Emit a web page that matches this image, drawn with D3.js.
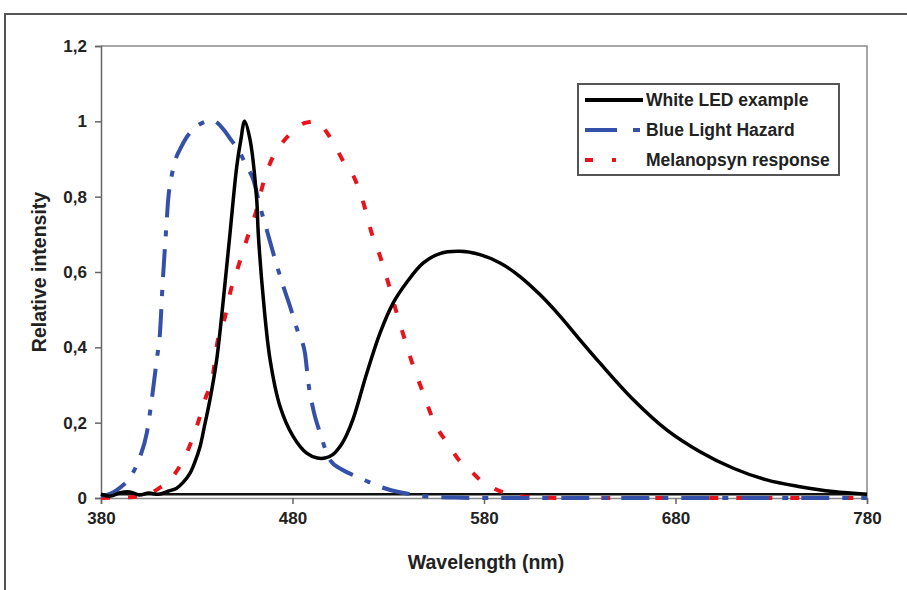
<!DOCTYPE html>
<html>
<head>
<meta charset="utf-8">
<script src="https://cdn.jsdelivr.net/npm/d3@7"></script>
<style>
  html, body { margin: 0; padding: 0; background: #fff; }
  svg { display: block; }
  text { font-family: "Liberation Sans", Arial, sans-serif; font-weight: bold; fill: #222; }
</style>
</head>
<body>
<svg id="chart" width="907" height="590"></svg>
<script>
// ---------- DATA ----------
const xTicks = [380, 480, 580, 680, 780];
const yTicks = [0, 0.2, 0.4, 0.6, 0.8, 1, 1.2];
const yTickLabels = ["0", "0,2", "0,4", "0,6", "0,8", "1", "1,2"];
const seriesNames = ["White LED example", "Blue Light Hazard", "Melanopsyn response"];

const ledWl = [380, 385, 390, 395, 400, 405, 410, 415, 419.5, 423, 426.5, 429, 431.7, 434, 436.9, 440.4, 443.9, 447.4, 450.9, 453, 455, 457.8, 461.3, 462.1, 464.8, 468.3, 473.5, 480.4, 487.4, 493, 497, 501, 505, 508.3, 511.8, 518.7, 525.7, 532.6, 539.6, 548.3, 557, 567.5, 577.9, 588.4, 598.8, 609.2, 619.7, 630.1, 640.6, 658, 675.4, 692.8, 710.2, 727.6, 745, 762.4, 780];
const ledVal = [0.01, 0.005, 0.014, 0.016, 0.008, 0.013, 0.01, 0.018, 0.026, 0.042, 0.066, 0.095, 0.136, 0.19, 0.261, 0.367, 0.527, 0.704, 0.881, 0.95, 1.0, 0.952, 0.793, 0.704, 0.527, 0.367, 0.243, 0.163, 0.119, 0.106, 0.106, 0.115, 0.138, 0.168, 0.212, 0.33, 0.438, 0.518, 0.572, 0.624, 0.649, 0.655, 0.646, 0.624, 0.588, 0.54, 0.483, 0.42, 0.358, 0.261, 0.181, 0.123, 0.079, 0.048, 0.03, 0.017, 0.01];

const blhWl = [380, 385, 388.2, 391, 394.3, 397, 400.4, 403.9, 406.5, 409.1, 410.8, 412.2, 413.9, 415.1, 416.9, 419, 421.3, 425, 430, 435, 438, 441, 443.9, 448, 452.6, 456, 459.5, 463, 466.5, 470.9, 475.2, 478.7, 483, 486.5, 488.3, 490.9, 494.4, 499.6, 506, 513.5, 520, 525.7, 532, 539.6, 547, 555, 565, 580, 780];
const blhVal = [0.005, 0.012, 0.021, 0.032, 0.048, 0.07, 0.11, 0.172, 0.261, 0.367, 0.438, 0.571, 0.704, 0.793, 0.855, 0.9, 0.926, 0.96, 0.987, 1.0, 1.003, 0.995, 0.979, 0.95, 0.917, 0.88, 0.846, 0.775, 0.713, 0.633, 0.562, 0.509, 0.438, 0.385, 0.305, 0.234, 0.172, 0.101, 0.075, 0.057, 0.042, 0.03, 0.02, 0.012, 0.006, 0.003, 0.001, 0, 0];

const melWl = [380, 395, 400, 405.6, 410, 416, 420, 424.7, 430, 434.3, 438.6, 440.4, 444.8, 447.4, 451.7, 456.1, 461.3, 464.8, 470, 475, 480.4, 486, 492.6, 498, 503.1, 507, 511.8, 517, 521.3, 525.7, 530, 534.4, 538.7, 543.1, 548.3, 553.5, 562.2, 567, 572.7, 578, 584.9, 590, 595.3, 605, 620, 780];
const melVal = [0, 0.002, 0.005, 0.012, 0.025, 0.048, 0.075, 0.119, 0.19, 0.261, 0.332, 0.402, 0.482, 0.544, 0.615, 0.686, 0.766, 0.837, 0.908, 0.945, 0.974, 0.995, 1.0, 0.97, 0.926, 0.89, 0.855, 0.784, 0.704, 0.642, 0.571, 0.491, 0.42, 0.349, 0.278, 0.207, 0.136, 0.1, 0.074, 0.048, 0.026, 0.015, 0.008, 0.002, 0, 0];

const baseWl = [380, 448, 780];
const baseVal = [0.01, 0.01, 0.01];

// ---------- LAYOUT ----------
const svg = d3.select("#chart");
const pLeft = 101, pRight = 867, pTop = 46, pBottom = 498;

const x = d3.scaleLinear().domain([380, 780]).range([pLeft, pRight]);
const y = d3.scaleLinear().domain([0, 1.2]).range([pBottom, pTop]);

// outer frame
svg.append("rect").attr("x", 5).attr("y", 14).attr("width", 1000).attr("height", 1000)
  .attr("fill", "none").attr("stroke", "#555").attr("stroke-width", 2);

// plot area border (top/right)
svg.append("path")
  .attr("d", `M${pLeft},${pTop}H${pRight}V${pBottom}`)
  .attr("fill", "none").attr("stroke", "#8a8a8a").attr("stroke-width", 1.5);

// axes
const yAxis = d3.axisLeft(y).tickValues(yTicks).tickSize(6).tickPadding(8)
  .tickFormat((d, i) => yTickLabels[i]);
const gy = svg.append("g").attr("transform", `translate(${pLeft},0)`).call(yAxis);
gy.select(".domain").attr("stroke", "#666").attr("stroke-width", 1.5);
gy.selectAll(".tick line").attr("stroke", "#666").attr("stroke-width", 1.5);
gy.selectAll(".tick text").style("font-size", "17px").attr("fill", "#222");

const xAxis = d3.axisBottom(x).tickValues(xTicks).tickSize(6).tickPadding(8)
  .tickFormat(d3.format("d"));
const gx = svg.append("g").attr("transform", `translate(0,${pBottom})`).call(xAxis);
gx.select(".domain").attr("stroke", "#888").attr("stroke-width", 1.5);
gx.selectAll(".tick line").attr("stroke", "#666").attr("stroke-width", 1.5);
gx.selectAll(".tick text").style("font-size", "17px").attr("fill", "#222");

// axis titles
svg.append("text").attr("x", 486).attr("y", 569)
  .attr("text-anchor", "middle").style("font-size", "19.5px").text("Wavelength (nm)");
svg.append("text").attr("transform", `translate(46,272) rotate(-90)`)
  .attr("text-anchor", "middle").style("font-size", "19.5px").text("Relative intensity");

// lines
const zip = (a, b) => a.map((w, i) => [w, b[i]]);
const line = d3.line().x(d => x(d[0])).y(d => y(d[1])).curve(d3.curveMonotoneX);
const smooth = d3.line().x(d => x(d[0])).y(d => y(d[1])).curve(d3.curveCatmullRom.alpha(0.5));

svg.append("path").datum(zip(baseWl, baseVal)).attr("d", line)
  .attr("fill", "none").attr("stroke", "#111").attr("stroke-width", 2.5);

svg.append("path").datum(zip(melWl, melVal)).attr("d", line)
  .attr("fill", "none").attr("stroke", "#e8141c").attr("stroke-width", 4)
  .attr("stroke-dasharray", "9,18");

svg.append("path").datum(zip(blhWl, blhVal)).attr("d", line)
  .attr("fill", "none").attr("stroke", "#3450a8").attr("stroke-width", 4)
  .attr("stroke-dasharray", "28,13,6,13");

svg.append("path").datum(zip(ledWl, ledVal)).attr("d", smooth)
  .attr("fill", "none").attr("stroke", "#000").attr("stroke-width", 3.5)
  .attr("stroke-linejoin", "round");

// legend
const lg = svg.append("g");
lg.append("rect").attr("x", 578).attr("y", 84).attr("width", 261).attr("height", 91)
  .attr("fill", "#fff").attr("stroke", "#555").attr("stroke-width", 2);
const legendStyles = [
  { color: "#000", dash: null, w: 4 },
  { color: "#3450a8", dash: "32,16,7,16", w: 4 },
  { color: "#e8141c", dash: "8,19,4,30", w: 4 }
];
seriesNames.forEach((name, i) => {
  const yy = 100 + i * 30;
  lg.append("line").attr("x1", 585).attr("x2", 643).attr("y1", yy).attr("y2", yy)
    .attr("stroke", legendStyles[i].color).attr("stroke-width", legendStyles[i].w)
    .attr("stroke-dasharray", legendStyles[i].dash);
  lg.append("text").attr("x", 646).attr("y", yy + 6).style("font-size", "17.5px").text(name);
});
</script>
</body>
</html>
